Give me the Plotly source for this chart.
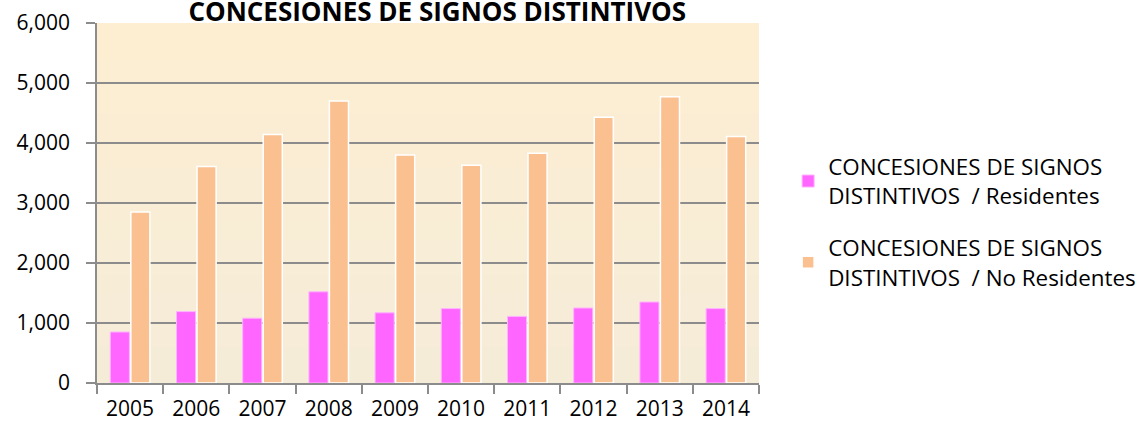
import plotly.graph_objects as go

years = ["2005", "2006", "2007", "2008", "2009", "2010", "2011", "2012", "2013", "2014"]
residentes = [850, 1190, 1080, 1520, 1170, 1240, 1110, 1250, 1350, 1240]
no_residentes = [2850, 3610, 4140, 4700, 3800, 3630, 3830, 4430, 4770, 4110]
name_res = "CONCESIONES DE SIGNOS<br>DISTINTIVOS  / Residentes"
name_nores = "CONCESIONES DE SIGNOS<br>DISTINTIVOS  / No Residentes"
title_text = "<b>CONCESIONES DE SIGNOS DISTINTIVOS</b>"
y_ticks = [0, 1000, 2000, 3000, 4000, 5000, 6000]

FONT = "Open Sans"

fig = go.Figure()
fig.add_trace(go.Bar(
    x=years, y=residentes, name=name_res, legendgroup="res",
    marker=dict(color="#ff66ff", line=dict(color="#ffb3ff", width=1)),
))
fig.add_trace(go.Bar(
    x=years, y=no_residentes, name=name_nores, legendgroup="nores",
    marker=dict(color="#fac08f", line=dict(color="#ffffff", width=1.5)),
))

# subtle vertical gradient background
top = (0xfd, 0xee, 0xd2)
bot = (0xf5, 0xec, 0xd8)
n = 20
shapes = []
for i in range(n):
    t = i / (n - 1)
    c = tuple(round(top[k] + (bot[k] - top[k]) * t) for k in range(3))
    shapes.append(dict(
        type="rect", xref="paper", yref="paper",
        x0=0, x1=1, y0=1 - (i + 1) / n, y1=1 - i / n,
        fillcolor="rgb(%d,%d,%d)" % c, line=dict(width=0), layer="below",
    ))

fig.update_layout(
    width=1146, height=429,
    margin=dict(l=97, r=387, t=23, b=46, autoexpand=False),
    paper_bgcolor="white",
    plot_bgcolor="#f9edd5",
    shapes=shapes,
    barmode="group",
    bargap=0.38,
    bargroupgap=0.07,
    title=dict(text=title_text, x=0.514, xref="paper", xanchor="center",
               y=1.0, yref="container", yanchor="top", pad=dict(t=3, b=0),
               font=dict(family=FONT, size=26, color="black")),
    font=dict(family=FONT, size=21, color="black"),
    legend=dict(
        x=1.044, y=0.66, xanchor="left", yanchor="top",
        font=dict(family=FONT, size=22.4, color="black"),
        tracegroupgap=20, itemwidth=30,
        bgcolor="rgba(0,0,0,0)",
    ),
    xaxis=dict(
        automargin=False,
        showline=True, linecolor="#8c8c8c", linewidth=1.5,
        ticks="outside", tickson="boundaries", ticklen=9, tickcolor="#8c8c8c", tickwidth=1.5,
        showgrid=False, ticklabelstandoff=6,
        tickfont=dict(family=FONT, size=21),
    ),
    yaxis=dict(
        automargin=False,
        range=[0, 6000], tickvals=y_ticks, tickformat=",d",
        showline=True, linecolor="#8c8c8c", linewidth=1.5,
        ticks="outside", ticklen=9, tickcolor="#8c8c8c", tickwidth=1.5,
        showgrid=True, gridcolor="#8c8c8c", gridwidth=1.5,
        zeroline=False, ticklabelstandoff=12,
        tickfont=dict(family=FONT, size=21),
    ),
)

fig.write_html("out.html", config={"displayModeBar": False},
               post_script="document.body.style.margin='0';")
